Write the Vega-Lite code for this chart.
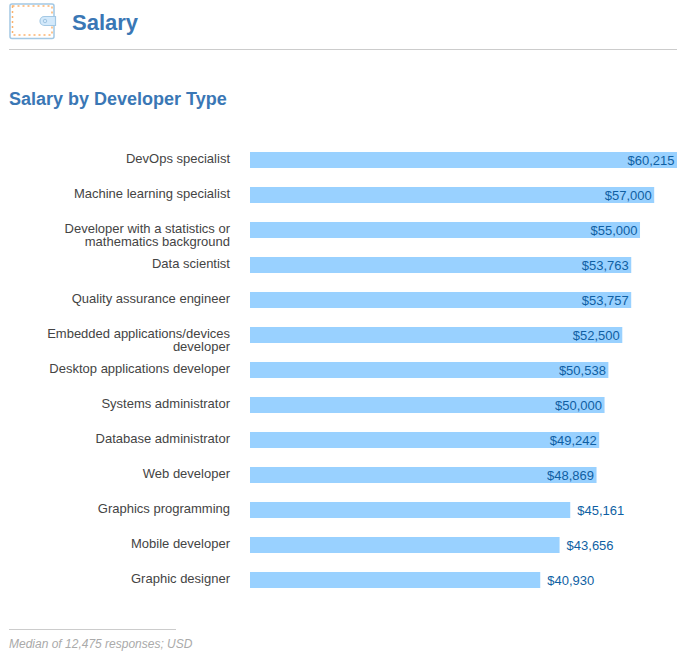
{"$schema":"https://vega.github.io/schema/vega-lite/v6.json","width":427,"height":455,"autosize":"none","padding":{"left":250,"top":142.5,"right":9,"bottom":62.5},"background":"white","view":{"stroke":null},"config":{"view":{"stroke":null},"font":"Liberation Sans"},
"data":{"values":[
{"role":"DevOps specialist","salary":60215,"place":"in"},
{"role":"Machine learning specialist","salary":57000,"place":"in"},
{"role":"Developer with a statistics or|mathematics background","salary":55000,"place":"in"},
{"role":"Data scientist","salary":53763,"place":"in"},
{"role":"Quality assurance engineer","salary":53757,"place":"in"},
{"role":"Embedded applications/devices|developer","salary":52500,"place":"in"},
{"role":"Desktop applications developer","salary":50538,"place":"in"},
{"role":"Systems administrator","salary":50000,"place":"in"},
{"role":"Database administrator","salary":49242,"place":"in"},
{"role":"Web developer","salary":48869,"place":"in"},
{"role":"Graphics programming","salary":45161,"place":"out"},
{"role":"Mobile developer","salary":43656,"place":"out"},
{"role":"Graphic designer","salary":40930,"place":"out"}]},
"resolve":{"scale":{"x":"independent","y":"independent"},"axis":{"x":"independent","y":"independent"}},
"layer":[
{"layer":[
{"mark":{"type":"bar","color":"#99d1ff","height":16},"encoding":{
"x":{"field":"salary","type":"quantitative","scale":{"domain":[0,60215],"nice":false},"axis":null},
"y":{"field":"role","type":"nominal","sort":null,"scale":{"paddingInner":0,"paddingOuter":0},"axis":{"title":null,"domain":false,"ticks":false,"labelPadding":20.5,"labelFont":"Liberation Sans","labelFontSize":13,"labelColor":"#444444","labelLimit":260,"labelBaseline":"alphabetic","labelOffset":3,"labelLineHeight":13,"labelExpr":"split(datum.label,'|')"}}}},
{"transform":[{"filter":"datum.place==='in'"}],"mark":{"type":"text","align":"right","dx":-2.5,"dy":1,"font":"Liberation Sans","fontSize":13,"color":"#0f5fa3"},"encoding":{"x":{"field":"salary","type":"quantitative"},"y":{"field":"role","type":"nominal","sort":null},"text":{"field":"salary","type":"quantitative","format":"$,.0f"}}},
{"transform":[{"filter":"datum.place==='out'"}],"mark":{"type":"text","align":"left","dx":7,"dy":1,"font":"Liberation Sans","fontSize":13,"color":"#0f5fa3"},"encoding":{"x":{"field":"salary","type":"quantitative"},"y":{"field":"role","type":"nominal","sort":null},"text":{"field":"salary","type":"quantitative","format":"$,.0f"}}}
]},
{"data":{"values":[{}]},"layer":[
{"mark":{"type":"rule","color":"#cccccc","strokeWidth":1},"encoding":{"x":{"datum":9,"type":"quantitative","scale":{"domain":[0,686],"range":[-250,436],"nice":false,"zero":false},"axis":null},"x2":{"datum":677},"y":{"datum":49.5,"type":"quantitative","scale":{"domain":[0,660],"range":[-142.5,517.5],"nice":false,"zero":false},"axis":null}}},
{"mark":{"type":"rule","color":"#cccccc","strokeWidth":1},"encoding":{"x":{"datum":9,"type":"quantitative","scale":{"domain":[0,686],"range":[-250,436],"nice":false,"zero":false},"axis":null},"x2":{"datum":176},"y":{"datum":629.5,"type":"quantitative","scale":{"domain":[0,660],"range":[-142.5,517.5],"nice":false,"zero":false},"axis":null}}},
{"mark":{"type":"rect","fill":"#ffffff","stroke":"#a3c8e4","strokeWidth":1.5,"cornerRadius":2},"encoding":{"x":{"datum":10,"type":"quantitative","scale":{"domain":[0,686],"range":[-250,436],"nice":false,"zero":false},"axis":null},"x2":{"datum":54},"y":{"datum":4,"type":"quantitative","scale":{"domain":[0,660],"range":[-142.5,517.5],"nice":false,"zero":false},"axis":null},"y2":{"datum":38.5}}},
{"mark":{"type":"rect","fill":"#ffffff","stroke":"#fbb26e","strokeWidth":1.5,"strokeDash":[2,3]},"encoding":{"x":{"datum":12.5,"type":"quantitative","scale":{"domain":[0,686],"range":[-250,436],"nice":false,"zero":false},"axis":null},"x2":{"datum":52},"y":{"datum":6,"type":"quantitative","scale":{"domain":[0,660],"range":[-142.5,517.5],"nice":false,"zero":false},"axis":null},"y2":{"datum":35}}},
{"mark":{"type":"rect","fill":"#d3e9fb","stroke":"#a3c8e4","strokeWidth":1.2,"cornerRadiusTopLeft":5,"cornerRadiusBottomLeft":5},"encoding":{"x":{"datum":40,"type":"quantitative","scale":{"domain":[0,686],"range":[-250,436],"nice":false,"zero":false},"axis":null},"x2":{"datum":55.5},"y":{"datum":16.5,"type":"quantitative","scale":{"domain":[0,660],"range":[-142.5,517.5],"nice":false,"zero":false},"axis":null},"y2":{"datum":25.5}}},
{"mark":{"type":"point","shape":"circle","size":12,"stroke":"#8db8d8","fill":"#d3e9fb","strokeWidth":1},"encoding":{"x":{"datum":45,"type":"quantitative","scale":{"domain":[0,686],"range":[-250,436],"nice":false,"zero":false},"axis":null},"y":{"datum":21,"type":"quantitative","scale":{"domain":[0,660],"range":[-142.5,517.5],"nice":false,"zero":false},"axis":null}}},
{"mark":{"type":"text","align":"left","baseline":"alphabetic","font":"Liberation Sans","fontSize":22,"fontWeight":"bold","color":"#3a77b5"},"encoding":{"x":{"datum":72,"type":"quantitative","scale":{"domain":[0,686],"range":[-250,436],"nice":false,"zero":false},"axis":null},"y":{"datum":29.5,"type":"quantitative","scale":{"domain":[0,660],"range":[-142.5,517.5],"nice":false,"zero":false},"axis":null},"text":{"value":"Salary"}}},
{"mark":{"type":"text","align":"left","baseline":"alphabetic","font":"Liberation Sans","fontSize":18,"fontWeight":"bold","color":"#3a77b5"},"encoding":{"x":{"datum":9,"type":"quantitative","scale":{"domain":[0,686],"range":[-250,436],"nice":false,"zero":false},"axis":null},"y":{"datum":105,"type":"quantitative","scale":{"domain":[0,660],"range":[-142.5,517.5],"nice":false,"zero":false},"axis":null},"text":{"value":"Salary by Developer Type"}}},
{"mark":{"type":"text","align":"left","baseline":"alphabetic","font":"Liberation Sans","fontSize":12,"fontStyle":"italic","color":"#aaaaaa"},"encoding":{"x":{"datum":9,"type":"quantitative","scale":{"domain":[0,686],"range":[-250,436],"nice":false,"zero":false},"axis":null},"y":{"datum":648,"type":"quantitative","scale":{"domain":[0,660],"range":[-142.5,517.5],"nice":false,"zero":false},"axis":null},"text":{"value":"Median of 12,475 responses; USD"}}}
]}
]}
